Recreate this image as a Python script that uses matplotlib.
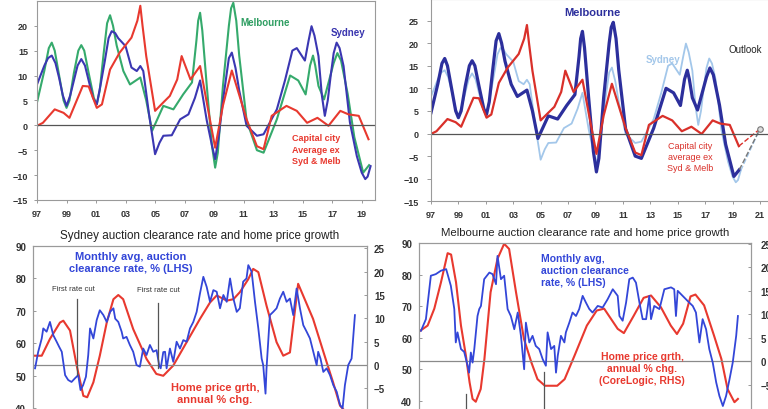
import matplotlib
matplotlib.use('Agg')
import matplotlib.pyplot as plt

plt.rcParams['font.family'] = ['Liberation Sans', 'DejaVu Sans']

W, H = 768, 410

# top charts: smoothed home price growth, %
syd_yr = [1997.0, 1997.5, 1997.75, 1998.0, 1998.25, 1998.5, 1998.75, 1999.0, 1999.25, 1999.5,
          1999.75, 2000.0, 2000.25, 2000.5, 2000.8, 2001.05, 2001.3, 2001.6, 2001.85, 2002.06,
          2002.3, 2002.5, 2003.0, 2003.4, 2003.76, 2004.0, 2004.2, 2004.6, 2005.0, 2005.3,
          2005.56, 2006.13, 2006.7, 2007.26, 2007.7, 2008.05, 2008.5, 2008.85, 2009.07, 2009.3,
          2009.6, 2010.0, 2010.2, 2010.45, 2010.7, 2011.2, 2011.9, 2012.35, 2013.25, 2013.8,
          2014.3, 2014.6, 2015.15, 2015.4, 2015.6, 2015.8, 2016.07, 2016.3, 2016.5, 2016.7,
          2016.9, 2017.1, 2017.3, 2017.5, 2017.77, 2018.2, 2018.67, 2019.0, 2019.24, 2019.4,
          2019.6]
syd_val = [8.2, 12.0, 13.5, 14.0, 12.5, 9.5, 6.0, 3.9, 6.0, 9.0,
           12.0, 13.3, 12.0, 9.0, 5.5, 4.2, 8.0, 13.0, 17.5, 18.9,
           18.5, 17.5, 15.9, 11.6, 10.9, 11.9, 10.9, 2.0, -5.8, -3.5,
           -2.1, -2.0, 1.2, 2.2, 5.5, 9.0, 1.0, -4.0, -6.8, -2.5,
           5.0, 13.5, 14.6, 11.5, 7.0, -0.1, -2.1, -1.8, 3.2, 9.0,
           15.0, 15.5, 13.0, 17.0, 19.9, 18.0, 13.9, 6.0, 1.9, 5.0,
           10.0, 14.5, 16.6, 15.5, 11.9, 0.6, -6.2, -9.5, -10.8, -10.3,
           -8.2]

mel_yr = [1997.0, 1997.5, 1997.8, 1998.0, 1998.2, 1998.5, 1998.8, 1999.0, 1999.2, 1999.5,
          1999.8, 2000.0, 2000.2, 2000.5, 2000.85, 2001.05, 2001.25, 2001.5, 2001.75, 2001.95,
          2002.15, 2002.4, 2002.85, 2003.3, 2004.0, 2004.4, 2004.8, 2005.56, 2006.24, 2006.9,
          2007.5, 2007.8, 2007.92, 2008.05, 2008.2, 2008.5, 2008.85, 2009.07, 2009.25, 2009.6,
          2010.0, 2010.15, 2010.3, 2010.5, 2010.7, 2011.2, 2011.9, 2012.35, 2013.25, 2014.15,
          2014.7, 2015.2, 2015.5, 2015.7, 2015.85, 2016.07, 2016.45, 2017.1, 2017.35, 2017.6,
          2018.05, 2018.5, 2019.1, 2019.5]
mel_val = [4.6, 11.0, 15.5, 16.6, 15.0, 10.0, 5.0, 3.5, 5.0, 10.5,
           15.0, 16.1, 15.0, 10.5, 5.5, 4.2, 7.0, 14.0, 20.5, 22.1,
           20.0, 16.0, 10.9, 8.2, 9.6, 5.0, -1.1, 3.9, 3.2, 6.2,
           8.6, 17.0, 21.0, 22.6, 19.0, 8.0, -4.0, -8.5, -5.5, 8.0,
           20.0, 23.5, 24.6, 21.0, 14.0, 1.0, -5.0, -5.5, 1.2, 10.0,
           9.0, 6.2, 12.0, 14.0, 12.0, 7.9, 5.2, 12.5, 14.5, 13.0,
           6.3, -2.4, -9.5, -8.0]

cap_yr = [1997.0, 1997.4, 1998.2, 1998.8, 1999.2, 2000.1, 2000.5, 2001.05, 2001.4, 2001.95,
          2002.6, 2003.4, 2003.8, 2004.0, 2004.15, 2004.4, 2005.0, 2005.56, 2006.0, 2006.5,
          2006.8, 2007.4, 2008.05, 2008.6, 2009.07, 2009.6, 2010.2, 2011.2, 2011.9, 2012.35,
          2012.9, 2013.9, 2014.6, 2015.3, 2016.0, 2016.75, 2017.55, 2018.1, 2018.8, 2019.46]
cap_val = [-0.1, 0.5, 3.2, 2.5, 1.5, 7.9, 7.8, 3.5, 4.2, 11.2,
           14.6, 17.6, 21.0, 24.0, 20.0, 13.9, 2.9, 4.6, 5.9, 9.2,
           13.9, 9.2, 11.9, 3.0, -4.5, 4.0, 11.0, 1.2, -4.2, -4.8,
           1.9, 3.9, 2.9, 0.5, 1.5, -0.1, 2.9, 2.2, 1.9, -2.8]

outlook_yr = 2021.0
outlook_val = 1.0

top_ticks = list(range(1997, 2022, 2))

# Sydney: clearance rate (LHS, %) and annual price growth (RHS, %)
sacr_yr = [2007.08, 2007.2, 2007.34, 2007.4, 2007.53, 2007.66, 2007.79, 2007.92, 2008.02, 2008.12,
           2008.25, 2008.37, 2008.5, 2008.63, 2008.76, 2008.85, 2008.95, 2009.06, 2009.15, 2009.22,
           2009.35, 2009.48, 2009.6, 2009.74, 2009.87, 2010.0, 2010.13, 2010.2, 2010.32, 2010.45,
           2010.51, 2010.64, 2010.77, 2010.9, 2011.03, 2011.16, 2011.29, 2011.42, 2011.55, 2011.68,
           2011.81, 2011.91, 2011.97, 2012.07, 2012.14, 2012.2, 2012.33, 2012.46, 2012.59, 2012.72,
           2012.85, 2012.98, 2013.11, 2013.24, 2013.37, 2013.5, 2013.63, 2013.76, 2013.89, 2014.02,
           2014.15, 2014.28, 2014.41, 2014.54, 2014.67, 2014.8, 2014.93, 2015.05, 2015.18, 2015.31,
           2015.38, 2015.51, 2015.64, 2015.77, 2015.9, 2015.96, 2016.05, 2016.09, 2016.22, 2016.35,
           2016.48, 2016.61, 2016.74, 2016.87, 2017.0, 2017.13, 2017.26, 2017.39, 2017.52, 2017.65,
           2017.78, 2017.91, 2018.04, 2018.1, 2018.19, 2018.3, 2018.43, 2018.56, 2018.69, 2018.82,
           2018.95, 2019.05, 2019.14, 2019.27, 2019.4, 2019.53]
sacr_val = [52.3, 57.3, 61.5, 64.6, 63.6, 66.6, 62.5, 60.5, 58.9, 57.4,
            50.2, 48.7, 48.1, 49.2, 50.2, 45.6, 47.1, 49.7, 56.4, 64.6,
            61.5, 67.2, 70.2, 68.7, 66.6, 69.7, 70.8, 67.6, 66.6, 63.6,
            61.5, 62.0, 59.5, 57.4, 53.3, 52.8, 58.4, 56.4, 59.5, 57.4,
            57.9, 53.3, 52.3, 57.3, 57.4, 52.3, 58.4, 54.3, 60.5, 58.4,
            61.0, 60.5, 64.6, 66.6, 69.7, 75.4, 80.5, 77.4, 72.8, 76.4,
            75.9, 70.8, 74.9, 72.8, 80.0, 73.8, 69.7, 70.8, 79.0, 80.0,
            84.1, 82.1, 72.8, 64.6, 55.3, 53.3, 44.5, 52.3, 68.7, 69.7,
            70.8, 73.8, 75.9, 72.8, 73.8, 68.7, 76.9, 70.8, 65.6, 63.6,
            61.5, 57.4, 53.3, 57.4, 55.3, 51.2, 52.3, 50.2, 47.1, 45.1,
            41.0, 40.0, 47.1, 53.3, 55.3, 68.7]

shp_yr = [2007.0, 2007.34, 2007.66, 2008.05, 2008.18, 2008.44, 2008.7, 2008.96, 2009.11, 2009.35,
          2009.6, 2009.87, 2010.13, 2010.32, 2010.51, 2010.9, 2011.42, 2011.8, 2012.07, 2012.46,
          2012.98, 2013.5, 2013.89, 2014.15, 2014.54, 2014.8, 2015.05, 2015.38, 2015.57, 2015.77,
          2016.09, 2016.48, 2016.74, 2017.0, 2017.32, 2017.9, 2018.43, 2018.68, 2018.95, 2019.1]
shp_val = [2.0, 2.0, 5.6, 9.1, 9.5, 7.4, -0.1, -6.6, -6.9, -3.7,
           2.0, 9.1, 14.1, 15.0, 14.1, 7.7, 1.3, -1.9, -2.3, -0.1,
           4.9, 9.9, 13.4, 14.9, 13.8, 14.1, 15.6, 18.4, 20.6, 19.9,
           12.7, 4.9, 2.0, 2.7, 17.4, 9.9, 0.6, -3.7, -8.7, -9.6]

# Melbourne: clearance rate (LHS, %) and annual price growth (RHS, %)
macr_yr = [2006.88, 2007.08, 2007.28, 2007.48, 2007.69, 2007.9, 2008.09, 2008.23, 2008.29, 2008.36,
           2008.5, 2008.63, 2008.77, 2008.83, 2008.9, 2008.97, 2009.04, 2009.17, 2009.24, 2009.31,
           2009.44, 2009.65, 2009.78, 2009.92, 2009.98, 2010.12, 2010.25, 2010.39, 2010.52, 2010.66,
           2010.8, 2010.93, 2011.06, 2011.13, 2011.27, 2011.4, 2011.53, 2011.67, 2011.81, 2011.94,
           2012.01, 2012.15, 2012.28, 2012.35, 2012.42, 2012.55, 2012.69, 2012.75, 2012.89, 2013.02,
           2013.16, 2013.29, 2013.43, 2013.56, 2013.7, 2013.83, 2014.04, 2014.24, 2014.44, 2014.65,
           2014.85, 2014.92, 2015.05, 2015.19, 2015.32, 2015.46, 2015.59, 2015.73, 2015.86, 2016.0,
           2016.13, 2016.2, 2016.33, 2016.54, 2016.74, 2017.01, 2017.14, 2017.21, 2017.28, 2017.48,
           2017.68, 2017.89, 2018.02, 2018.16, 2018.29, 2018.43, 2018.56, 2018.7, 2018.84, 2018.97,
           2019.11, 2019.24, 2019.38, 2019.51, 2019.65, 2019.72]
macr_val = [62.2, 65.9, 79.7, 80.2, 81.3, 81.8, 76.5, 69.1, 58.5, 61.7,
            56.4, 55.5, 51.1, 48.9, 55.3, 52.1, 56.4, 66.9, 69.1, 70.1,
            78.6, 80.7, 80.2, 77.0, 86.0, 78.6, 79.7, 69.1, 66.9, 62.7,
            68.0, 60.6, 50.0, 64.8, 58.5, 60.6, 57.4, 56.4, 53.2, 51.1,
            61.7, 56.4, 57.4, 48.9, 54.2, 60.6, 58.5, 61.7, 64.8, 68.0,
            66.9, 69.1, 73.3, 71.2, 69.1, 68.0, 70.1, 69.6, 72.2, 75.4,
            73.3, 66.9, 65.4, 71.2, 78.6, 79.1, 77.5, 71.2, 65.9, 65.9,
            73.3, 65.9, 70.1, 69.1, 75.4, 76.0, 75.4, 66.9, 74.9, 73.3,
            71.7, 70.1, 68.0, 58.5, 65.9, 62.7, 56.4, 52.1, 45.8, 41.5,
            38.3, 41.5, 46.8, 52.1, 60.6, 66.9]

mhp_yr = [2006.85, 2007.15, 2007.42, 2007.69, 2007.96, 2008.1, 2008.3, 2008.5, 2008.7, 2008.85,
          2008.97, 2009.1, 2009.3, 2009.45, 2009.7, 2009.98, 2010.25, 2010.45, 2010.73, 2011.05,
          2011.35, 2011.6, 2011.9, 2012.4, 2012.7, 2013.1, 2013.6, 2014.0, 2014.3, 2014.85,
          2015.1, 2015.5, 2015.9, 2016.2, 2016.6, 2017.0, 2017.25, 2017.5, 2017.8, 2018.0,
          2018.35, 2018.75, 2019.05, 2019.3, 2019.58, 2019.72]
mhp_val = [6.5, 7.6, 11.2, 16.8, 23.0, 22.7, 16.8, 7.6, 1.2, -4.5,
           -8.0, -8.6, -5.9, 0.5, 14.7, 21.8, 25.0, 23.9, 14.7, 4.8,
           -0.2, -3.8, -5.2, -5.2, -3.8, 1.2, 7.6, 10.8, 11.2, 6.9,
           6.0, 9.7, 13.5, 14.0, 11.5, 7.6, 5.8, 8.0, 13.8, 14.2,
           11.9, 5.5, 0.5, -5.9, -8.7, -8.0]

rate_cuts = [2008.7, 2011.86]

fig = plt.figure(figsize=(7.68, 4.10), dpi=100)


def box(l, r, t, b):
    # axes placed by pixel edges of the reference
    return fig.add_axes([l / W, (H - b) / H, (r - l) / W, (b - t) / H])


def style(ax, size=6.5):
    for s in ax.spines.values():
        s.set_color('#9a9a9a')
        s.set_linewidth(0.8)
    ax.tick_params(colors='#9a9a9a', labelcolor='#333333', labelsize=size, width=0.7)
    for lab in ax.get_xticklabels() + ax.get_yticklabels():
        lab.set_fontweight('bold')


yy = lambda ys: ['%02d' % (y % 100) for y in ys]

# ---- top left
ax1 = box(37, 375, 1.8, 201)
ax1.plot(mel_yr, mel_val, color='#35aa6c', lw=1.5)
ax1.plot(syd_yr, syd_val, color='#3b37b2', lw=1.5)
ax1.plot(cap_yr, cap_val, color='#e8392f', lw=1.5)
ax1.axhline(0, color='#555555', lw=0.9)
ax1.set_xlim(1997, 2019.9)
ax1.set_ylim(-15, 25)
ax1.set_xticks(top_ticks[:12])
ax1.set_xticklabels(yy(top_ticks[:12]))
ax1.set_yticks(range(-15, 21, 5))
ax1.tick_params(length=2.5, pad=4)
style(ax1)
ax1.text(2010.8, 20.7, 'Melbourne', color='#2f9e62', fontsize=7, fontweight='bold', va='center')
ax1.text(2018.05, 18.7, 'Sydney', color='#3834ae', fontsize=7, fontweight='bold', ha='center', va='center')
ax1.text(2015.9, -4.8, 'Capital city\nAverage ex\nSyd & Melb', color='#e8392f', fontsize=6.5,
         fontweight='bold', ha='center', va='center', linespacing=1.35)

# ---- top right
ax2 = box(431, 775, 0, 202.3)
ax2.plot(syd_yr, syd_val, color='#a3c7ea', lw=1.3)
ax2.plot(mel_yr, mel_val, color='#2c2f9c', lw=2.3)
ax2.plot(cap_yr, cap_val, color='#d9302a', lw=1.6)
ax2.plot([syd_yr[-1], outlook_yr], [syd_val[-1], outlook_val], color='#a3c7ea', lw=1, ls='--')
ax2.plot([mel_yr[-1], outlook_yr], [mel_val[-1], outlook_val], color='#777777', lw=1, ls='--')
ax2.plot([cap_yr[-1], outlook_yr], [cap_val[-1], outlook_val], color='#d9302a', lw=1, ls='--')
ax2.plot([outlook_yr], [outlook_val], marker='o', ms=4, mfc='#dddddd', mec='#777777', mew=0.8)
ax2.axhline(0, color='#555555', lw=0.9)
ax2.set_xlim(1997, 2022.1)
ax2.set_ylim(-15, 29.76)
ax2.set_xticks(top_ticks)
ax2.set_xticklabels(yy(top_ticks))
ax2.set_yticks(range(-15, 26, 5))
ax2.tick_params(length=3, pad=6)
ax2.tick_params(axis='x', length=2.5, pad=4)
style(ax2)
ax2.text(2008.8, 26.9, 'Melbourne', color='#2c2f9c', fontsize=8, fontweight='bold', ha='center', va='center')
ax2.text(2013.9, 16.4, 'Sydney', color='#a3c7ea', fontsize=7, fontweight='bold', ha='center', va='center')
ax2.text(2019.9, 18.6, 'Outlook', color='#222222', fontsize=7, ha='center', va='center')
ax2.text(2015.9, -5.0, 'Capital city\naverage ex\nSyd & Melb', color='#d9302a', fontsize=6.5,
         ha='center', va='center', linespacing=1.3)

# ---- bottom left: Sydney
ax3 = box(33, 367, 247, 430)
ax3r = ax3.twinx()
ax3.set_zorder(ax3r.get_zorder() + 1)
ax3.patch.set_visible(False)
ax3r.plot(shp_yr, shp_val, color='#e8392f', lw=1.5)
ax3r.axhline(0, color='#8a8a8a', lw=0.9)
ax3.plot(sacr_yr, sacr_val, color='#3346d8', lw=1.3)
for x, lo, hi in zip(rate_cuts, [50.3, 52.3], [73.7, 72.3]):
    ax3.plot([x, x], [lo, hi], color='#555555', lw=0.9)
ax3.set_xlim(2007, 2020)
ax3.set_ylim(33.6, 90)
ax3r.set_ylim(-13.7, 25.5)
ax3.set_yticks(range(40, 91, 10))
ax3r.set_yticks(range(-5, 26, 5))
ax3.set_xticks([])
ax3.tick_params(length=2.5, pad=5, direction='in')
ax3r.tick_params(length=2.5, pad=5, direction='in')
style(ax3, 7)
style(ax3r, 7)
ax3.set_title('Sydney auction clearance rate and home price growth', fontsize=8.4,
              color='#222222', pad=6)
ax3.text(2010.81, 85.2, 'Monthly avg, auction\nclearance rate, % (LHS)', color='#3346d8',
         fontsize=8, fontweight='bold', ha='center', va='center', linespacing=1.25)
ax3.text(2008.58, 77.0, 'First rate cut', color='#333333', fontsize=5.5, ha='center', va='center')
ax3.text(2011.9, 76.7, 'First rate cut', color='#333333', fontsize=5.5, ha='center', va='center')
ax3.text(2014.08, 44.8, 'Home price grth,\nannual % chg.', color='#e8392f', fontsize=8,
         fontweight='bold', ha='center', va='center', linespacing=1.25)

# ---- bottom right: Melbourne
ax4 = box(419, 751, 244.3, 430)
ax4r = ax4.twinx()
ax4.set_zorder(ax4r.get_zorder() + 1)
ax4.patch.set_visible(False)
ax4r.plot(mhp_yr, mhp_val, color='#e8392f', lw=1.5)
ax4r.axhline(0, color='#8a8a8a', lw=0.9)
ax4.plot(macr_yr, macr_val, color='#3346d8', lw=1.3)
for x, lo in zip(rate_cuts, [42.1, 49.0]):
    ax4.plot([x, x], [31, lo], color='#555555', lw=0.9)
ax4.set_xlim(2006.8, 2020.25)
ax4.set_ylim(31.0, 90)
ax4r.set_ylim(-14.4, 25.1)
ax4.set_yticks(range(40, 91, 10))
ax4r.set_yticks(range(-5, 26, 5))
ax4.set_xticks([])
ax4.tick_params(length=2.5, pad=5, direction='in')
ax4r.tick_params(length=2.5, pad=7, direction='in')
style(ax4, 7)
style(ax4r, 7)
ax4.set_title('Melbourne auction clearance rate and home price growth', fontsize=8.2,
              color='#222222', pad=6)
ax4.text(2011.75, 81.5, 'Monthly avg,\nauction clearance\nrate, % (LHS)', color='#3346d8',
         fontsize=7.5, fontweight='bold', ha='left', va='center', linespacing=1.25)
ax4.text(2015.84, 50.4, 'Home price grth,\nannual % chg.\n(CoreLogic, RHS)', color='#e8392f',
         fontsize=7.5, fontweight='bold', ha='center', va='center', linespacing=1.25)

fig.savefig('out.png', dpi=100)
